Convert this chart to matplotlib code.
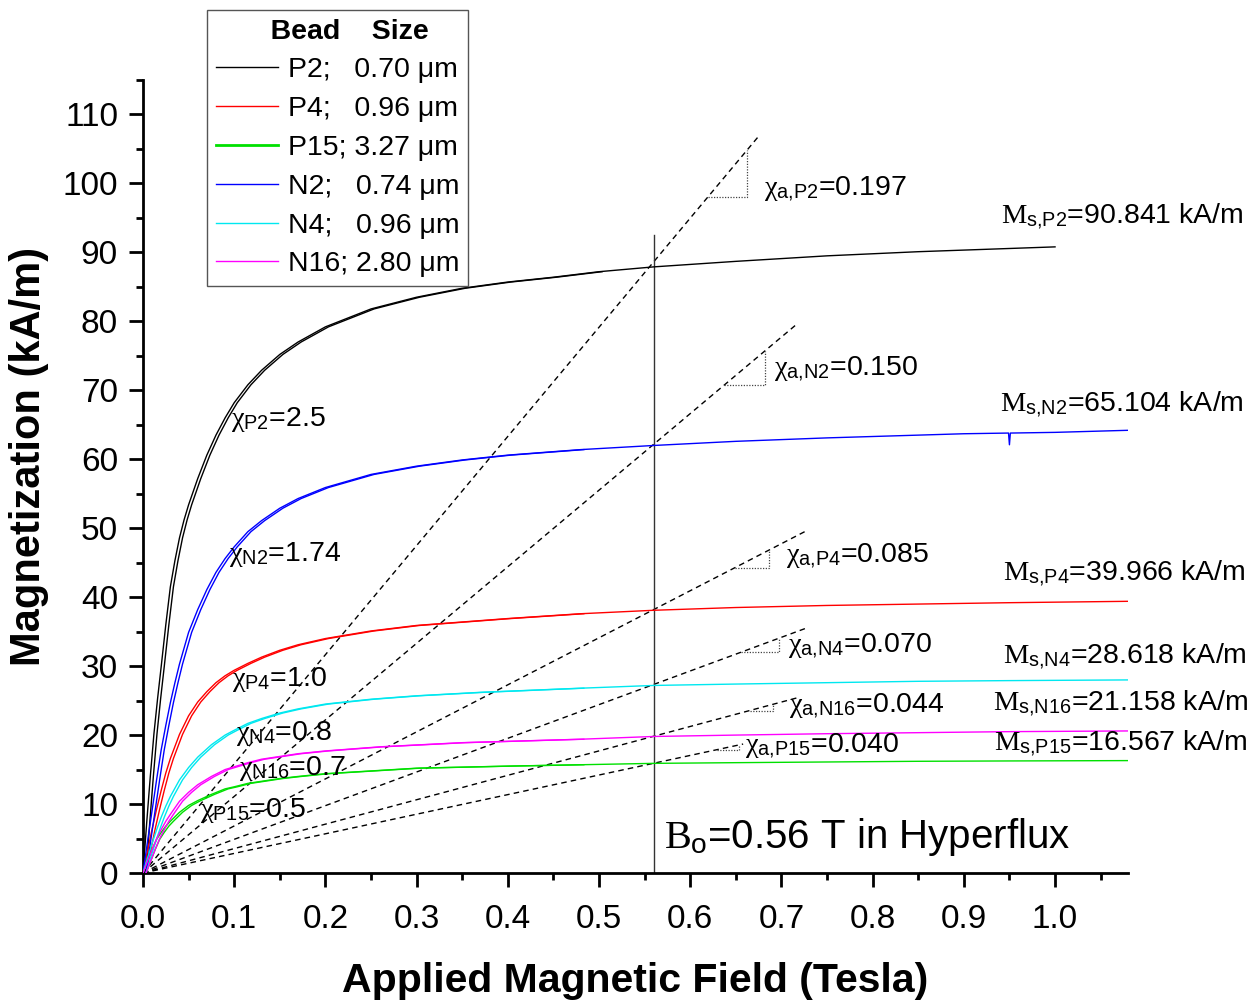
import matplotlib
matplotlib.use("Agg")
import matplotlib.pyplot as plt
import matplotlib.transforms as mtransforms
from matplotlib.ticker import MultipleLocator

plt.rcParams['font.family'] = ['Liberation Sans', 'DejaVu Sans']
plt.rcParams['mathtext.fontset'] = 'custom'
plt.rcParams['mathtext.rm'] = 'Liberation Sans'
plt.rcParams['mathtext.it'] = 'Liberation Serif'
plt.rcParams['mathtext.bf'] = 'Liberation Sans:bold'

# ---------------- data ----------------
labels = ["P2;   0.70 μm", "P4;   0.96 μm", "P15; 3.27 μm",
          "N2;   0.74 μm", "N4;   0.96 μm", "N16; 2.80 μm"]
colors = ["#000000", "#ff0000", "#00e000", "#0000ff", "#00e8f0", "#ff00ff"]

p2_x = [0, .004, .008, .012, .016, .020, .025, .030, .035, .040, .045, .050, .060, .070,
        .080, .090, .100, .115, .130, .150, .170, .200, .250, .300, .350, .400, .450,
        .500, .560, .650, .750, .850, 1.0]
p2_y = [0, 7.2, 14.0, 20.2, 25.3, 30.0, 36.0, 41.5, 45.3, 48.6, 51.2, 53.4, 57.2, 60.6,
        63.5, 66.0, 68.2, 70.8, 72.9, 75.2, 77.0, 79.2, 81.8, 83.5, 84.8, 85.7, 86.4,
        87.2, 87.9, 88.7, 89.5, 90.1, 90.8]

p4_x = [0, .005, .010, .015, .020, .025, .030, .040, .050, .060, .070, .080, .090, .100,
        .115, .130, .150, .170, .200, .250, .300, .400, .480, .560, .650, .750, .850,
        .950, 1.08]
p4_y = [0, 3.2, 6.4, 9.3, 12.0, 14.5, 16.6, 20.1, 22.8, 24.8, 26.3, 27.6, 28.6, 29.4,
        30.4, 31.3, 32.3, 33.1, 34.0, 35.1, 35.9, 36.9, 37.6, 38.1, 38.5, 38.8, 39.0,
        39.2, 39.4]

p15_x = [0, .005, .010, .015, .020, .025, .030, .040, .050, .060, .075, .090, .100, .115,
         .130, .150, .170, .200, .250, .300, .400, .480, .560, .650, .750, .850, .950, 1.08]
p15_y = [0, 1.7, 3.4, 4.9, 5.9, 6.8, 7.5, 8.8, 9.8, 10.5, 11.4, 12.2, 12.5, 13.0,
         13.3, 13.7, 14.0, 14.4, 14.8, 15.2, 15.5, 15.7, 15.9, 16.0, 16.1, 16.2, 16.25, 16.3]

n2_x = [0, .005, .010, .015, .020, .025, .030, .035, .040, .050, .060, .070, .080, .090,
        .100, .115, .130, .150, .170, .200, .250, .300, .350, .400, .480, .560, .650,
        .750, .850, .900, .949, .950, .951, 1.0, 1.08]
n2_y = [0, 4.6, 9.1, 13.6, 17.9, 21.4, 24.7, 27.6, 30.3, 34.9, 38.2, 41.1, 43.6, 45.6,
        47.3, 49.5, 51.1, 52.9, 54.3, 55.9, 57.8, 59.0, 59.9, 60.6, 61.4, 62.0, 62.6,
        63.1, 63.5, 63.7, 63.8, 62.1, 63.8, 63.9, 64.2]

n4_x = [0, .005, .010, .015, .020, .025, .030, .040, .050, .060, .075, .090, .100, .115,
        .130, .150, .170, .200, .250, .300, .370, .480, .560, .650, .750, .850, .950, 1.08]
n4_y = [0, 2.2, 4.3, 6.3, 8.1, 9.7, 11.1, 13.5, 15.3, 16.8, 18.6, 20.0, 20.7, 21.7,
        22.4, 23.2, 23.8, 24.5, 25.2, 25.7, 26.2, 26.8, 27.2, 27.4, 27.6, 27.8, 27.9, 28.0]

n16_x = [0, .005, .010, .015, .020, .025, .030, .040, .050, .060, .075, .090, .100, .115,
         .130, .150, .170, .200, .260, .350, .480, .560, .650, .750, .850, .950, 1.08]
n16_y = [0, 1.7, 3.4, 5.0, 6.3, 7.5, 8.5, 10.4, 11.7, 12.8, 14.0, 15.0, 15.4, 16.0,
         16.5, 16.9, 17.3, 17.7, 18.3, 18.9, 19.4, 19.8, 20.0, 20.2, 20.35, 20.5, 20.6]

curves_x = [p2_x, p4_x, p15_x, n2_x, n4_x, n16_x]
curves_y = [p2_y, p4_y, p15_y, n2_y, n4_y, n16_y]

# apparent-susceptibility dashed lines (end points) and slope triangles
dash_end_x = [0.676, 0.716, 0.727, 0.727, 0.720, 0.658]
dash_end_y = [107.0, 79.5, 49.6, 35.5, 25.5, 18.7]
tri_x1 = [0.619, 0.637, 0.649, 0.656, 0.665, 0.629]
tri_x2 = [0.662, 0.682, 0.686, 0.697, 0.691, 0.654]

chi_labels = [r"$\chi_{\mathrm{P2}}$=2.5", r"$\chi_{\mathrm{N2}}$=1.74", r"$\chi_{\mathrm{P4}}$=1.0",
              r"$\chi_{\mathrm{N4}}$=0.8", r"$\chi_{\mathrm{N16}}$=0.7", r"$\chi_{\mathrm{P15}}$=0.5"]
chi_pos = [(0.097, 65.7), (0.094, 46.2), (0.098, 28.0), (0.102, 20.3), (0.105, 15.2), (0.063, 9.1)]

chia_labels = [r"$\chi_{\mathrm{a{,}P2}}$=0.197", r"$\chi_{\mathrm{a{,}N2}}$=0.150",
               r"$\chi_{\mathrm{a{,}P4}}$=0.085", r"$\chi_{\mathrm{a{,}N4}}$=0.070",
               r"$\chi_{\mathrm{a{,}N16}}$=0.044", r"$\chi_{\mathrm{a{,}P15}}$=0.040"]
chia_pos = [(0.681, 99.1), (0.692, 73.0), (0.705, 45.9), (0.707, 32.8), (0.708, 24.2), (0.660, 18.3)]

ms_labels = [r"$M_{\mathrm{s{,}P2}}$=90.841 kA/m", r"$M_{\mathrm{s{,}N2}}$=65.104 kA/m",
             r"$M_{\mathrm{s{,}P4}}$=39.966 kA/m", r"$M_{\mathrm{s{,}N4}}$=28.618 kA/m",
             r"$M_{\mathrm{s{,}N16}}$=21.158 kA/m", r"$M_{\mathrm{s{,}P15}}$=16.567 kA/m"]
ms_pos = [(1.207, 95.1), (1.207, 67.9), (1.209, 43.3), (1.210, 31.3), (1.211, 24.5), (1.211, 18.7)]

b0 = 0.56
b0_top = 92.5

# ---------------- figure ----------------
fig = plt.figure(figsize=(12.58, 10.02), dpi=100)
ax = fig.add_axes([143/1258, 1-873/1002, (1128-143)/1258, (873-80)/1002])
ax.set_xlim(0, 1.08)
ax.set_ylim(0, 115)

handles = []
for cx, cy, col, lab in zip(curves_x, curves_y, colors, labels):
    lw = 1.0
    # second, slightly shifted trace (doubled data/fit look in the steep part)
    n = sum(1 for v in cx if v <= 0.5)
    off = mtransforms.offset_copy(ax.transData, fig=fig, x=2.2, y=0, units='points')
    ax.plot(cx[:n], cy[:n], color=col, lw=lw, zorder=3, transform=off)
    h, = ax.plot(cx, cy, color=col, lw=lw, zorder=3, label=lab)
    handles.append(h)

for ex, ey, x1, x2 in zip(dash_end_x, dash_end_y, tri_x1, tri_x2):
    ax.plot([0, ex], [0, ey], color='black', lw=1.0, dashes=(4, 3), zorder=2)
    s = ey / ex
    ax.plot([x1, x2, x2], [s*x1, s*x1, s*x2], color='#444444', lw=0.9, ls=(0, (1, 1.2)), zorder=2)

ax.plot([b0, b0], [0, b0_top], color='#333333', lw=1.0, zorder=2)

fs_ann = 20.5
for t, (x, y) in zip(chi_labels, chi_pos):
    ax.text(x, y, t, fontsize=fs_ann, ha='left', va='center', zorder=5)
for t, (x, y) in zip(chia_labels, chia_pos):
    ax.text(x, y, t, fontsize=fs_ann, ha='left', va='center', zorder=5)
for t, (x, y) in zip(ms_labels, ms_pos):
    ax.text(x, y, t, fontsize=fs_ann, ha='right', va='center', zorder=5, clip_on=False)

ax.text(0.571, 5.2, r"$B_{\mathrm{o}}$=0.56 T in Hyperflux", fontsize=29, ha='left', va='center')

# axes styling
for sp in ['top', 'right']:
    ax.spines[sp].set_visible(False)
for sp in ['left', 'bottom']:
    ax.spines[sp].set_linewidth(2)
ax.xaxis.set_minor_locator(MultipleLocator(0.05))
ax.yaxis.set_major_locator(MultipleLocator(10))
ax.yaxis.set_minor_locator(MultipleLocator(5))
ax.set_xticks([i/10 for i in range(11)])
ax.set_xticklabels([f"{i/10:.1f}" for i in range(11)])
ax.tick_params(which='major', direction='out', length=10, width=2, labelsize=24)
ax.tick_params(which='minor', direction='out', length=5, width=2)
ax.tick_params(axis='x', which='major', pad=12)
ax.tick_params(axis='y', which='major', pad=8)

ax.set_xlabel("Applied Magnetic Field (Tesla)", fontsize=29.5, fontweight='bold', labelpad=20)
ax.set_ylabel("Magnetization (kA/m)", fontsize=30, fontweight='bold')
ax.yaxis.set_label_coords(-0.095, 0.525)

leg = fig.legend(handles=handles, loc='upper left', bbox_to_anchor=(207/1258, 1-10/1002),
                 fontsize=20.5, title="   Bead    Size",
                 title_fontproperties={'weight': 'bold', 'size': 20.5},
                 frameon=True, fancybox=False, edgecolor='#555555', framealpha=1,
                 handlelength=2.2, handletextpad=0.35, borderpad=0.3, labelspacing=0.45,
                 borderaxespad=0)
leg.get_frame().set_linewidth(1.0)
for lh in leg.get_lines():
    lh.set_linewidth(1.0)
leg.get_lines()[2].set_linewidth(2.0)
leg.set_zorder(10)

fig.savefig("out.png", dpi=100)
